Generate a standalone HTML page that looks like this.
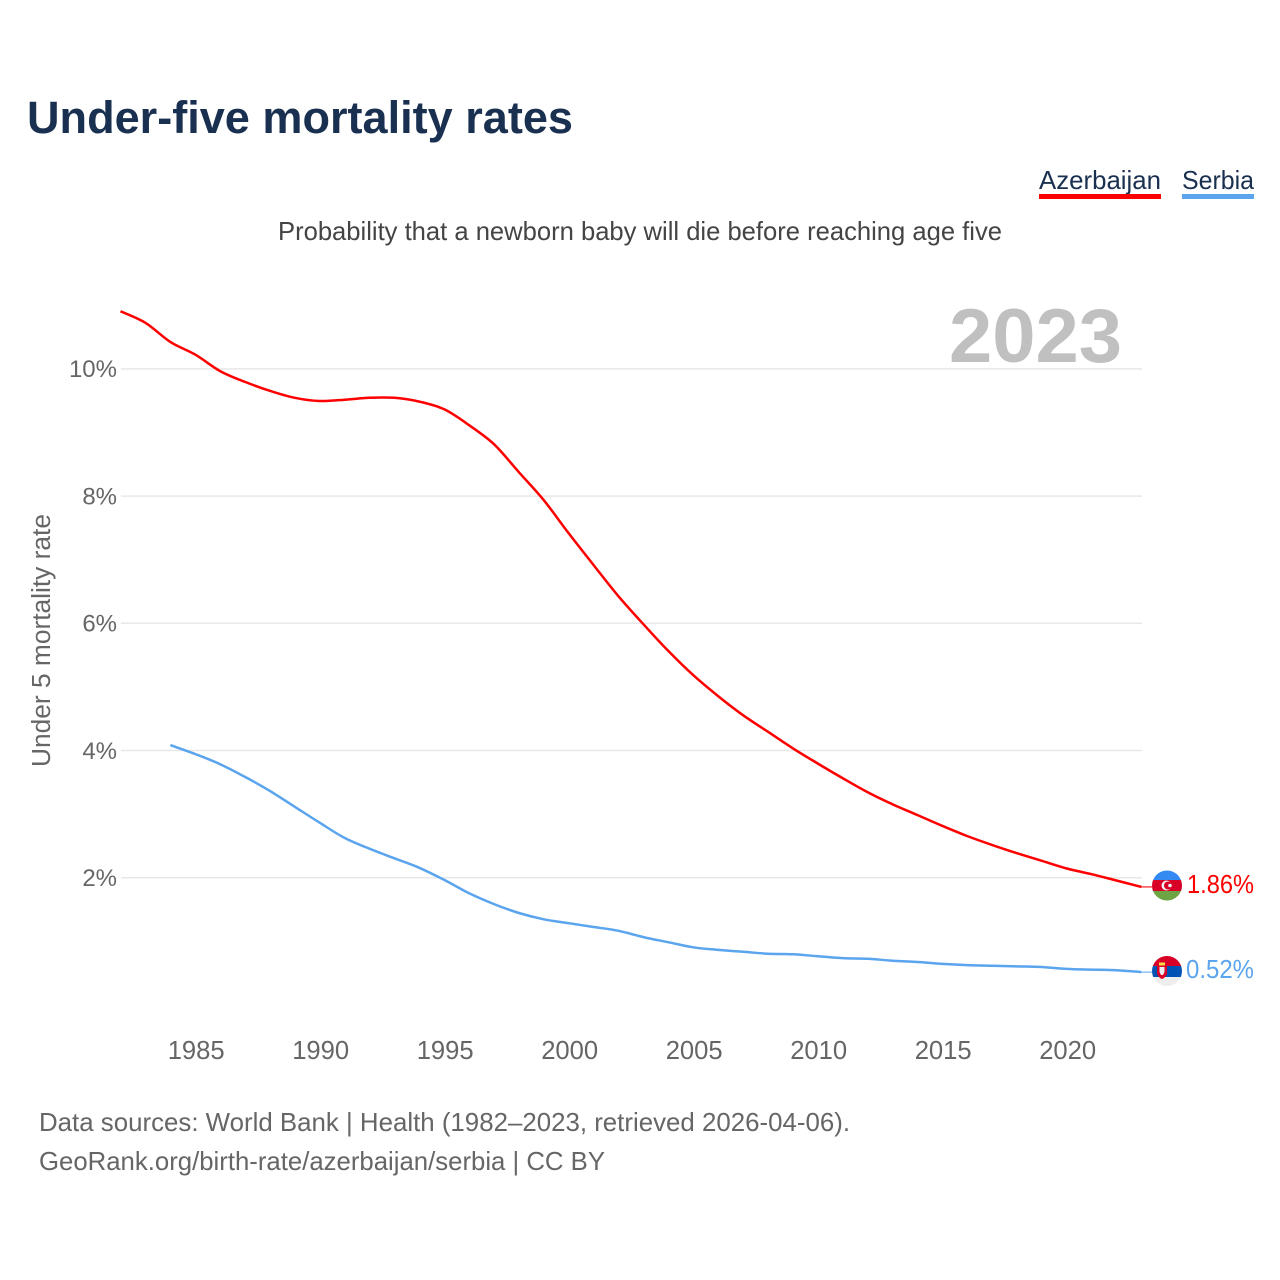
<!DOCTYPE html>
<html>
<head>
<meta charset="utf-8">
<title>Under-five mortality rates</title>
<style>
html,body{margin:0;padding:0;background:#fff;width:1280px;height:1280px;overflow:hidden}
svg{display:block}
text{font-family:"Liberation Sans",sans-serif}
</style>
</head>
<body>
<svg id="chart" xmlns="http://www.w3.org/2000/svg" width="1280" height="1280" viewBox="0 0 1280 1280">
  <text x="27" y="133" font-size="45" font-weight="700" fill="#1a3050" textLength="546" lengthAdjust="spacingAndGlyphs">Under-five mortality rates</text>
  <g>
    <text x="1039" y="189" font-size="26" fill="#1a3050" textLength="122" lengthAdjust="spacingAndGlyphs">Azerbaijan</text>
    <rect x="1039" y="194" width="122" height="5" fill="#ff0000"/>
  </g>
  <g>
    <text x="1182" y="189" font-size="26" fill="#1a3050" textLength="72" lengthAdjust="spacingAndGlyphs">Serbia</text>
    <rect x="1182" y="194" width="72" height="5" fill="#5ba4ee"/>
  </g>
  <text x="278" y="240" font-size="26" fill="#444" textLength="724" lengthAdjust="spacingAndGlyphs">Probability that a newborn baby will die before reaching age five</text>
  <text x="949" y="362" font-size="76" font-weight="700" fill="#c0c0c0" textLength="173" lengthAdjust="spacingAndGlyphs">2023</text>
  <g id="grid"></g>
  <g id="yticks"></g>
  <g id="xticks"></g>
  <text transform="translate(50,767) rotate(-90)" font-size="25.5" fill="#666" textLength="253" lengthAdjust="spacingAndGlyphs">Under 5 mortality rate</text>
  <g id="series"></g>

  <defs>
    <clipPath id="clip-az"><circle cx="1167" cy="885.5" r="15"/></clipPath>
    <clipPath id="clip-rs"><circle cx="1167" cy="971" r="15"/></clipPath>
  </defs>
  <g clip-path="url(#clip-az)">
    <rect x="1152" y="870" width="30" height="10" fill="#338af3"/>
    <rect x="1152" y="880" width="30" height="11" fill="#d80027"/>
    <rect x="1152" y="891" width="30" height="10" fill="#6da544"/>
    <circle cx="1166.5" cy="885.5" r="5" fill="#f0f0f0"/>
    <circle cx="1168" cy="885.5" r="4" fill="#d80027"/>
    <circle cx="1170" cy="885.5" r="1.8" fill="#f0f0f0"/>
  </g>
  <g clip-path="url(#clip-rs)">
    <rect x="1152" y="956" width="30" height="10" fill="#d80027"/>
    <rect x="1152" y="966" width="30" height="11" fill="#0052b4"/>
    <rect x="1152" y="977" width="30" height="10" fill="#eeeeee"/>
    <path d="M1157 965h10v9q-2 4-5 5q-3-1-5-5z" fill="#d80027"/>
    <rect x="1159" y="962.5" width="6" height="3" fill="#ffda44"/>
    <path d="M1159.5 967h5v5l-1.5 3h-2l-1.5-3z" fill="#f0f0f0"/>
  </g>
  <text id="label-az" x="1187" y="893" font-size="26" fill="#ff0000" textLength="67" lengthAdjust="spacingAndGlyphs"></text>
  <text id="label-rs" x="1186" y="978" font-size="26" fill="#5ba4ee" textLength="68" lengthAdjust="spacingAndGlyphs"></text>

  <text x="39" y="1131" font-size="26" fill="#666" textLength="811" lengthAdjust="spacingAndGlyphs">Data sources: World Bank | Health (1982–2023, retrieved 2026-04-06).</text>
  <text x="39" y="1170" font-size="26" fill="#666" textLength="566" lengthAdjust="spacingAndGlyphs">GeoRank.org/birth-rate/azerbaijan/serbia | CC BY</text>
</svg>
<script>
const azerbaijanYears = [1982,1983,1984,1985,1986,1987,1988,1989,1990,1991,1992,1993,1994,1995,1996,1997,1998,1999,2000,2001,2002,2003,2004,2005,2006,2007,2008,2009,2010,2011,2012,2013,2014,2015,2016,2017,2018,2019,2020,2021,2022,2023];
const azerbaijanValues = [10.91,10.73,10.43,10.23,9.97,9.80,9.66,9.55,9.50,9.52,9.55,9.55,9.49,9.37,9.12,8.82,8.38,7.94,7.42,6.92,6.43,5.99,5.57,5.19,4.86,4.56,4.30,4.04,3.80,3.57,3.35,3.16,2.99,2.82,2.66,2.52,2.39,2.27,2.15,2.06,1.96,1.86];
const serbiaYears = [1984,1985,1986,1987,1988,1989,1990,1991,1992,1993,1994,1995,1996,1997,1998,1999,2000,2001,2002,2003,2004,2005,2006,2007,2008,2009,2010,2011,2012,2013,2014,2015,2016,2017,2018,2019,2020,2021,2022,2023];
const serbiaValues = [4.09,3.95,3.79,3.59,3.37,3.12,2.87,2.63,2.46,2.31,2.16,1.97,1.76,1.59,1.45,1.35,1.29,1.23,1.17,1.07,0.99,0.91,0.87,0.84,0.81,0.80,0.77,0.74,0.73,0.70,0.68,0.65,0.63,0.62,0.61,0.60,0.57,0.56,0.55,0.52];
const yTickValues = [2,4,6,8,10];
const xTickYears = [1985,1990,1995,2000,2005,2010,2015,2020];

const NS = 'http://www.w3.org/2000/svg';
function xScale(year){ return 195.2 + (year - 1985) * 24.9; }
function yScale(v){ return 1005.2 - v * 63.6; }
function make(tag, attrs){
  const el = document.createElementNS(NS, tag);
  for (const k in attrs) el.setAttribute(k, attrs[k]);
  return el;
}
const grid = document.getElementById('grid');
const yticks = document.getElementById('yticks');
const xticks = document.getElementById('xticks');
const series = document.getElementById('series');

yTickValues.forEach(function(v){
  const line = make('line', {x1:121, x2:1142, y1:yScale(v)-0.3, y2:yScale(v)-0.3, stroke:'#e8e8e8', 'stroke-width':1.5});
  
  
  grid.appendChild(line);
  const t = make('text', {x:117, y:yScale(v)+8, 'text-anchor':'end', 'font-size':24, fill:'#666'});
  
  
  t.textContent = v + '%';
  yticks.appendChild(t);
});
xTickYears.forEach(function(y){
  const t = make('text', {x:xScale(y)+1, y:1059, 'text-anchor':'middle', 'font-size':26, fill:'#666', textLength:57, lengthAdjust:'spacingAndGlyphs'});
  
  
  t.textContent = y;
  xticks.appendChild(t);
});
function curvePath(px, py){
  let d = 'M' + px[0].toFixed(1) + ' ' + py[0].toFixed(1);
  for (let i = 0; i < px.length - 1; i++){
    const p0 = Math.max(i - 1, 0), p3 = Math.min(i + 2, px.length - 1);
    const c1x = px[i] + (px[i+1] - px[p0]) / 6, c1y = py[i] + (py[i+1] - py[p0]) / 6;
    const c2x = px[i+1] - (px[p3] - px[i]) / 6, c2y = py[i+1] - (py[p3] - py[i]) / 6;
    d += 'C' + c1x.toFixed(1) + ' ' + c1y.toFixed(1) + ' ' + c2x.toFixed(1) + ' ' + c2y.toFixed(1) + ' ' + px[i+1].toFixed(1) + ' ' + py[i+1].toFixed(1);
  }
  return d;
}
function drawSeries(years, values, color, name){
  const d = curvePath(years.map(xScale), values.map(yScale));
  const line = make('path', {d:d, fill:'none', stroke:color, 'stroke-width':2.5, 'stroke-linejoin':'round'});
  
  
  series.appendChild(line);
  const last = yScale(values[values.length-1]);
  const lead = make('line', {x1:xScale(years[years.length-1]), x2:1152, y1:last, y2:last, stroke:color, 'stroke-width':1.5, opacity:0.7});
  
  
  series.appendChild(lead);
}
drawSeries(azerbaijanYears, azerbaijanValues, '#ff0000', 'azerbaijan-line');
drawSeries(serbiaYears, serbiaValues, '#5ba4ee', 'serbia-line');
document.getElementById('label-az').textContent = azerbaijanValues[azerbaijanValues.length-1].toFixed(2) + '%';
document.getElementById('label-rs').textContent = serbiaValues[serbiaValues.length-1].toFixed(2) + '%';
</script>
</body>
</html>
